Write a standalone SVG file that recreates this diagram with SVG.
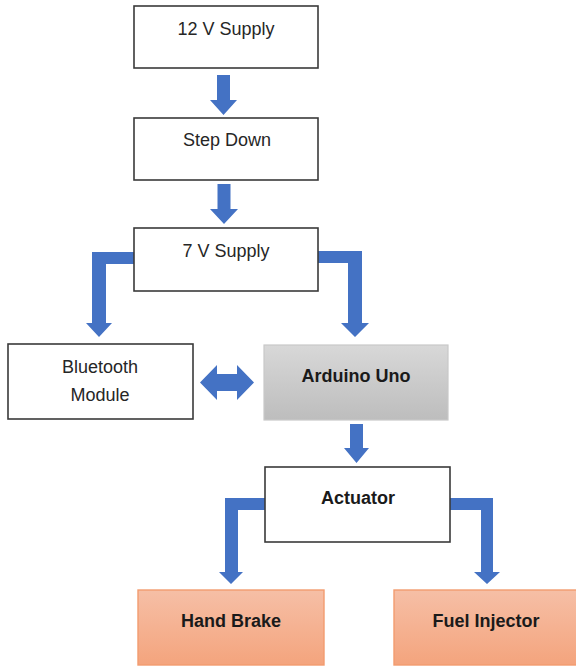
<svg xmlns="http://www.w3.org/2000/svg" width="576" height="668" viewBox="0 0 576 668">
<defs>
<linearGradient id="gGray" x1="0" y1="0" x2="0" y2="1"><stop offset="0" stop-color="#d8d8d8"/><stop offset="1" stop-color="#bdbdbd"/></linearGradient>
<linearGradient id="gOrange" x1="0" y1="0" x2="0" y2="1"><stop offset="0" stop-color="#f6bfa6"/><stop offset="1" stop-color="#f4a47d"/></linearGradient>
<style>
.box{fill:#fff;stroke:#3a3a3a;stroke-width:1.6}
.gray{fill:url(#gGray);stroke:#c9c9c9;stroke-width:1.2}
.orange{fill:url(#gOrange);stroke:#f39c6f;stroke-width:1.4}
.t{font-family:"Liberation Sans",Arial,sans-serif;font-size:18px;fill:#262626;text-anchor:middle}
.b{font-weight:bold;fill:#1a1a1a}
.arr{fill:#4472c4}
</style>
</defs>
<rect width="576" height="668" fill="#fff"/>
<g id="connectors">
<polygon class="arr" points="217,75 230,75 230,100 237,100 223.5,115 210,100 217,100"/>
<polygon class="arr" points="217.5,184 230.5,184 230.5,209 238,209 224,224 210,209 217.5,209"/>
<polygon class="arr" points="134,252 92,252 92,323 86,323 99,337 112,323 106,323 106,264 134,264"/>
<polygon class="arr" points="318,251 362,251 362,323 369,323 355,337 341,323 348,323 348,263 318,263"/>
<polygon class="arr" points="200,382.5 217,365 217,374 237,374 237,365 254,382.5 237,400 237,391 217,391 217,400"/>
<polygon class="arr" points="350,424 363,424 363,448 369,448 356.5,463 344,448 350,448"/>
<polygon class="arr" points="265,498 225,498 225,572 219,572 231,584 243,572 238,572 238,510 265,510"/>
<polygon class="arr" points="450,498 493,498 493,572 500,572 487,584 474,572 481,572 481,510 450,510"/>
</g>
<g id="supply12"><rect class="box" x="134" y="6" width="184" height="62"/><text class="t" x="226" y="35">12 V Supply</text></g>
<g id="stepdown"><rect class="box" x="134" y="118" width="184" height="62"/><text class="t" x="227" y="146">Step Down</text></g>
<g id="supply7"><rect class="box" x="134" y="228" width="184" height="63"/><text class="t" x="226" y="257">7 V Supply</text></g>
<g id="bluetooth"><rect class="box" x="8" y="344" width="185" height="75"/><text class="t" x="100" y="373">Bluetooth</text><text class="t" x="100" y="401">Module</text></g>
<g id="arduino"><rect class="gray" x="264" y="345" width="184" height="75"/><text class="t b" x="356" y="382">Arduino Uno</text></g>
<g id="actuator"><rect class="box" x="265" y="467" width="185" height="75"/><text class="t b" x="358" y="504">Actuator</text></g>
<g id="handbrake"><rect class="orange" x="138" y="590" width="186" height="75"/><text class="t b" x="231" y="627">Hand Brake</text></g>
<g id="fuelinjector"><rect class="orange" x="394" y="590" width="186" height="75"/><text class="t b" x="486" y="627">Fuel Injector</text></g>
</svg>
